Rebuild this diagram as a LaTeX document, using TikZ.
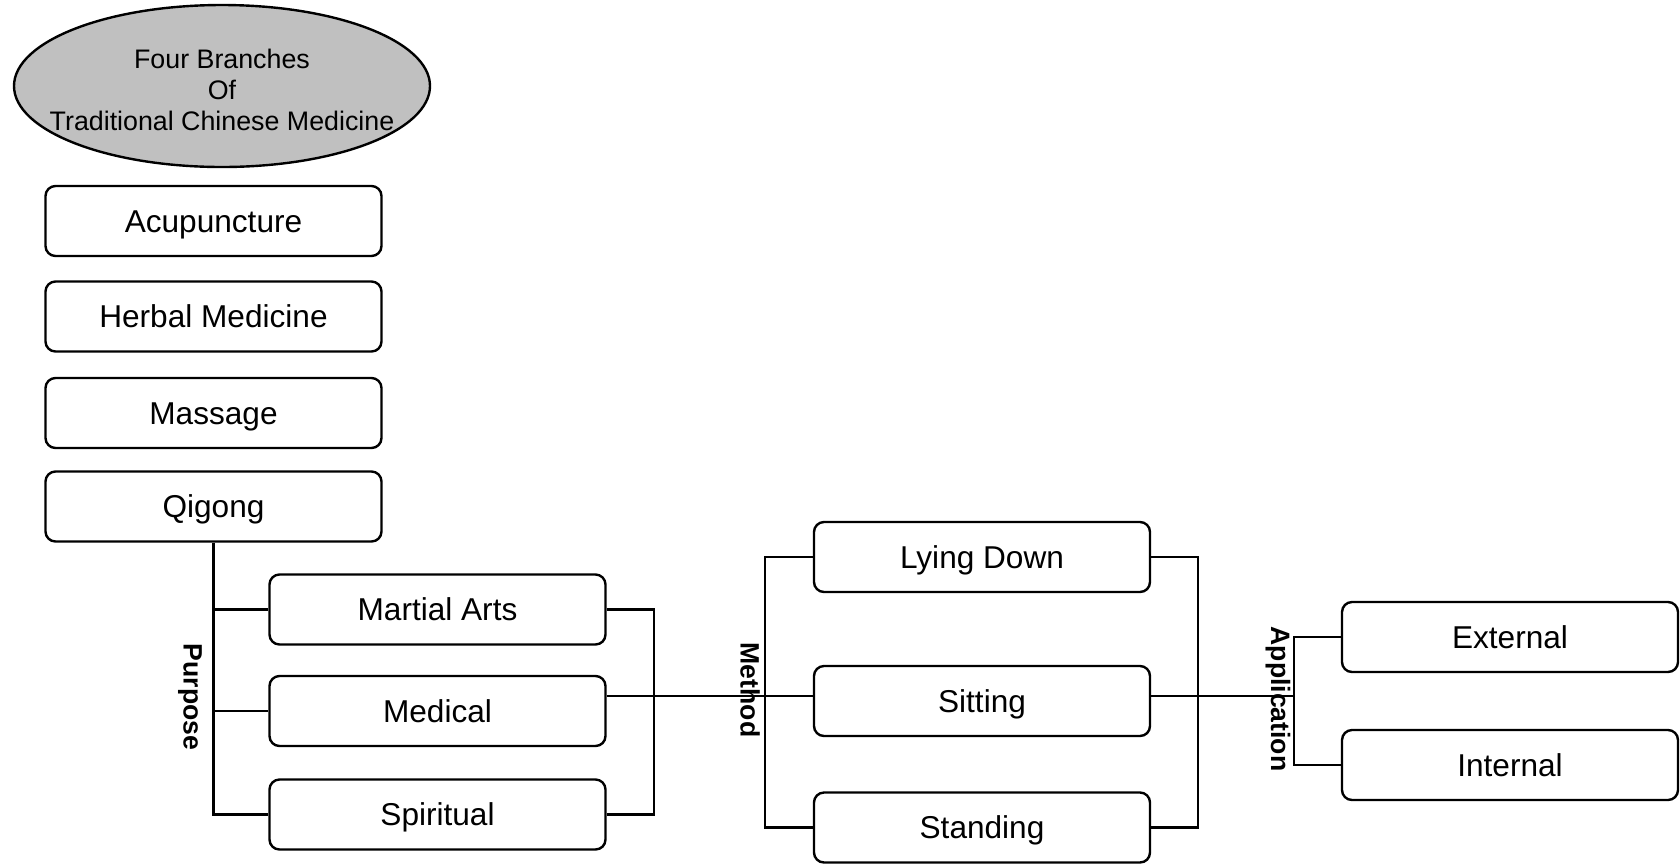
\documentclass[tikz,border=0pt]{standalone}
\usepackage{fontspec}
\setmainfont{Liberation Sans}
\newfontfamily\lblfont{Liberation Sans}
\usetikzlibrary{shapes.geometric}
\begin{document}
\begin{tikzpicture}[x=0.5pt,y=-0.5pt,
  line width=1.2pt,
  box/.style={draw, rounded corners=5pt, minimum width=168pt, minimum height=35pt, inner sep=0pt,
    text height=11.3pt, text depth=0pt,
    font=\fontsize{15.8}{18}\selectfont},
  lbl/.style={rotate=-90, inner sep=0pt, font=\lblfont\bfseries\fontsize{13.3}{15}\selectfont},
  wire/.style={line width=1.2pt}]
\useasboundingbox (0,0) rectangle (1680,864);
% title
\node[ellipse, draw, fill={rgb,255:red,192;green,192;blue,192}, minimum width=208pt, minimum height=81pt, inner sep=0pt] (root) at (222,86) {};
\node[align=center, inner sep=0pt, font=\fontsize{13.4}{15.5}\selectfont] (roottext) at (222,89.5) {Four Branches\\Of\\Traditional Chinese Medicine};
% left column
\node[box] (acu) at (213.5,221) {Acupuncture};
\node[box] (herb) at (213.5,316.5) {Herbal Medicine};
\node[box] (mas) at (213.5,413) {Massage};
\node[box] (qig) at (213.5,506.5) {Qigong};
% purpose column
\node[box] (mar) at (437.5,609.5) {Martial Arts};
\node[box] (med) at (437.5,711) {Medical};
\node[box] (spi) at (437.5,814.5) {Spiritual};
% method column
\node[box] (lie) at (982,557) {Lying Down};
\node[box] (sit) at (982,701) {Sitting};
\node[box] (sta) at (982,827.5) {Standing};
% application column
\node[box] (ext) at (1510,637) {External};
\node[box] (int) at (1510,765) {Internal};
% labels
\node[lbl] (purpose) at (190,697) {Purpose};
\node[lbl] (method) at (750,690) {Method};
\node[lbl] (application) at (1278,699) {Application};
% helper coordinates
\coordinate (pb) at (654,0);
\coordinate (mb) at (765,0);
\coordinate (rb) at (1198,0);
\coordinate (ab) at (1294,0);
\coordinate (mainy) at (0,696);
% purpose connectors
\draw[wire] (qig.south) -- (qig.south |- spi.west) -- (spi.west);
\draw[wire] (qig.south |- mar.west) -- (mar.west);
\draw[wire] (qig.south |- med.west) -- (med.west);
\draw[wire] (mar.east) -- (pb |- mar.east) -- (pb |- spi.east) -- (spi.east);
% main line
\draw[wire] (med.east |- mainy) -- (sit.west |- mainy);
% method connectors
\draw[wire] (lie.west) -- (mb |- lie.west) -- (mb |- sta.west) -- (sta.west);
\draw[wire] (lie.east) -- (rb |- lie.east) -- (rb |- sta.east) -- (sta.east);
\draw[wire] (sit.east |- mainy) -- (ab |- mainy);
% application connectors
\draw[wire] (ext.west) -- (ab |- ext.west) -- (ab |- int.west) -- (int.west);
\end{tikzpicture}
\end{document}
